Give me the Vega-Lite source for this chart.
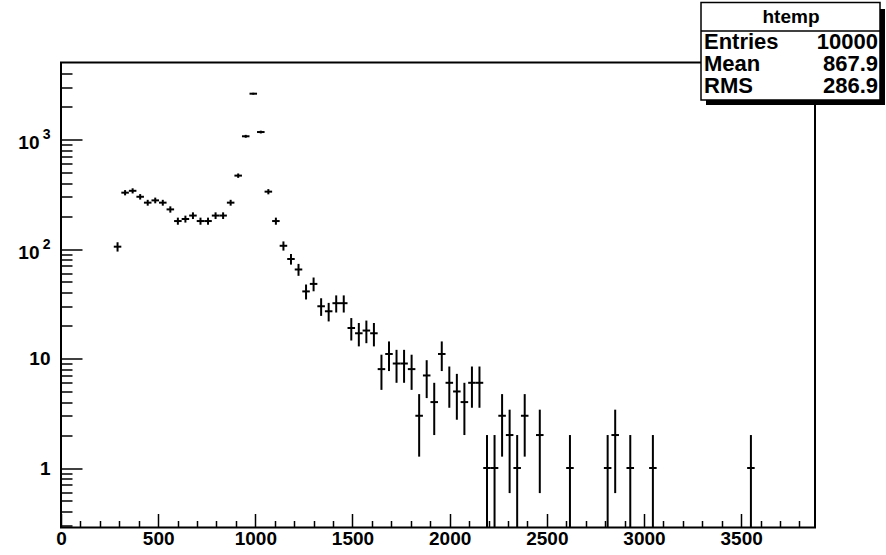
{
  "$schema": "https://vega.github.io/schema/vega-lite/v6.json",
  "width": 754,
  "height": 465,
  "autosize": {"type": "none"},
  "padding": {"left": 61, "top": 62.5, "right": 71, "bottom": 27.5},
  "background": "white",
  "config": {
    "view": {"stroke": "black", "strokeWidth": 2},
    "font": "Liberation Sans",
    "text": {"font": "Liberation Sans", "fontWeight": "bold", "fontSize": 22, "color": "black"}
  },
  "resolve": {"scale": {"x": "independent", "y": "independent"}},
  "layer": [
    {
      "data": {
        "values": [
          {"x": 291, "x0": 271.6, "x1": 310.4, "n": 105, "lo": 94.75, "hi": 115.25},
          {"x": 329.8, "x0": 310.4, "x1": 349.2, "n": 327, "lo": 308.9, "hi": 345.1},
          {"x": 368.6, "x0": 349.2, "x1": 388, "n": 340, "lo": 321.6, "hi": 358.4},
          {"x": 407.4, "x0": 388, "x1": 426.8, "n": 300, "lo": 282.7, "hi": 317.3},
          {"x": 446.2, "x0": 426.8, "x1": 465.6, "n": 265, "lo": 248.7, "hi": 281.3},
          {"x": 485, "x0": 465.6, "x1": 504.4, "n": 278, "lo": 261.3, "hi": 294.7},
          {"x": 523.8, "x0": 504.4, "x1": 543.2, "n": 265, "lo": 248.7, "hi": 281.3},
          {"x": 562.6, "x0": 543.2, "x1": 582, "n": 230, "lo": 214.8, "hi": 245.2},
          {"x": 601.4, "x0": 582, "x1": 620.8, "n": 180, "lo": 166.6, "hi": 193.4},
          {"x": 640.2, "x0": 620.8, "x1": 659.6, "n": 188, "lo": 174.3, "hi": 201.7},
          {"x": 679, "x0": 659.6, "x1": 698.4, "n": 202, "lo": 187.8, "hi": 216.2},
          {"x": 717.8, "x0": 698.4, "x1": 737.2, "n": 180, "lo": 166.6, "hi": 193.4},
          {"x": 756.6, "x0": 737.2, "x1": 776, "n": 180, "lo": 166.6, "hi": 193.4},
          {"x": 795.4, "x0": 776, "x1": 814.8, "n": 202, "lo": 187.8, "hi": 216.2},
          {"x": 834.2, "x0": 814.8, "x1": 853.6, "n": 202, "lo": 187.8, "hi": 216.2},
          {"x": 873, "x0": 853.6, "x1": 892.4, "n": 265, "lo": 248.7, "hi": 281.3},
          {"x": 911.8, "x0": 892.4, "x1": 931.2, "n": 468, "lo": 446.4, "hi": 489.6},
          {"x": 950.6, "x0": 931.2, "x1": 970, "n": 1070, "lo": 1037.3, "hi": 1102.7},
          {"x": 989.4, "x0": 970, "x1": 1008.8, "n": 2620, "lo": 2568.8, "hi": 2671.2},
          {"x": 1028.2, "x0": 1008.8, "x1": 1047.6, "n": 1170, "lo": 1135.8, "hi": 1204.2},
          {"x": 1067, "x0": 1047.6, "x1": 1086.4, "n": 334, "lo": 315.7, "hi": 352.3},
          {"x": 1105.8, "x0": 1086.4, "x1": 1125.2, "n": 180, "lo": 166.6, "hi": 193.4},
          {"x": 1144.6, "x0": 1125.2, "x1": 1164, "n": 107, "lo": 96.7, "hi": 117.3},
          {"x": 1183.4, "x0": 1164, "x1": 1202.8, "n": 81, "lo": 72, "hi": 90},
          {"x": 1222.2, "x0": 1202.8, "x1": 1241.6, "n": 65, "lo": 56.9, "hi": 73.1},
          {"x": 1261, "x0": 1241.6, "x1": 1280.4, "n": 41, "lo": 34.6, "hi": 47.4},
          {"x": 1299.8, "x0": 1280.4, "x1": 1319.2, "n": 48, "lo": 41.1, "hi": 54.9},
          {"x": 1338.6, "x0": 1319.2, "x1": 1358, "n": 30, "lo": 24.5, "hi": 35.5},
          {"x": 1377.4, "x0": 1358, "x1": 1396.8, "n": 27, "lo": 21.8, "hi": 32.2},
          {"x": 1416.2, "x0": 1396.8, "x1": 1435.6, "n": 32, "lo": 26.3, "hi": 37.7},
          {"x": 1455, "x0": 1435.6, "x1": 1474.4, "n": 32, "lo": 26.3, "hi": 37.7},
          {"x": 1493.8, "x0": 1474.4, "x1": 1513.2, "n": 19, "lo": 14.6, "hi": 23.4},
          {"x": 1532.6, "x0": 1513.2, "x1": 1552, "n": 17, "lo": 12.9, "hi": 21.1},
          {"x": 1571.4, "x0": 1552, "x1": 1590.8, "n": 18, "lo": 13.8, "hi": 22.2},
          {"x": 1610.2, "x0": 1590.8, "x1": 1629.6, "n": 17, "lo": 12.9, "hi": 21.1},
          {"x": 1649, "x0": 1629.6, "x1": 1668.4, "n": 8, "lo": 5.17, "hi": 10.83},
          {"x": 1687.8, "x0": 1668.4, "x1": 1707.2, "n": 11, "lo": 7.68, "hi": 14.32},
          {"x": 1726.6, "x0": 1707.2, "x1": 1746, "n": 9, "lo": 6, "hi": 12},
          {"x": 1765.4, "x0": 1746, "x1": 1784.8, "n": 9, "lo": 6, "hi": 12},
          {"x": 1804.2, "x0": 1784.8, "x1": 1823.6, "n": 8, "lo": 5.17, "hi": 10.83},
          {"x": 1843, "x0": 1823.6, "x1": 1862.4, "n": 3, "lo": 1.27, "hi": 4.73},
          {"x": 1881.8, "x0": 1862.4, "x1": 1901.2, "n": 7, "lo": 4.35, "hi": 9.65},
          {"x": 1920.6, "x0": 1901.2, "x1": 1940, "n": 4, "lo": 2, "hi": 6},
          {"x": 1959.4, "x0": 1940, "x1": 1978.8, "n": 11, "lo": 7.68, "hi": 14.32},
          {"x": 1998.2, "x0": 1978.8, "x1": 2017.6, "n": 6, "lo": 3.55, "hi": 8.45},
          {"x": 2037, "x0": 2017.6, "x1": 2056.4, "n": 5, "lo": 2.76, "hi": 7.24},
          {"x": 2075.8, "x0": 2056.4, "x1": 2095.2, "n": 4, "lo": 2, "hi": 6},
          {"x": 2114.6, "x0": 2095.2, "x1": 2134, "n": 6, "lo": 3.55, "hi": 8.45},
          {"x": 2153.4, "x0": 2134, "x1": 2172.8, "n": 6, "lo": 3.55, "hi": 8.45},
          {"x": 2192.2, "x0": 2172.8, "x1": 2211.6, "n": 1, "lo": 0, "hi": 2},
          {"x": 2231, "x0": 2211.6, "x1": 2250.4, "n": 1, "lo": 0, "hi": 2},
          {"x": 2269.8, "x0": 2250.4, "x1": 2289.2, "n": 3, "lo": 1.27, "hi": 4.73},
          {"x": 2308.6, "x0": 2289.2, "x1": 2328, "n": 2, "lo": 0.59, "hi": 3.41},
          {"x": 2347.4, "x0": 2328, "x1": 2366.8, "n": 1, "lo": 0, "hi": 2},
          {"x": 2386.2, "x0": 2366.8, "x1": 2405.6, "n": 3, "lo": 1.27, "hi": 4.73},
          {"x": 2463.8, "x0": 2444.4, "x1": 2483.2, "n": 2, "lo": 0.59, "hi": 3.41},
          {"x": 2619, "x0": 2599.6, "x1": 2638.4, "n": 1, "lo": 0, "hi": 2},
          {"x": 2813, "x0": 2793.6, "x1": 2832.4, "n": 1, "lo": 0, "hi": 2},
          {"x": 2851.8, "x0": 2832.4, "x1": 2871.2, "n": 2, "lo": 0.59, "hi": 3.41},
          {"x": 2929.4, "x0": 2910, "x1": 2948.8, "n": 1, "lo": 0, "hi": 2},
          {"x": 3045.8, "x0": 3026.4, "x1": 3065.2, "n": 1, "lo": 0, "hi": 2},
          {"x": 3550.2, "x0": 3530.8, "x1": 3569.6, "n": 1, "lo": 0, "hi": 2}
        ]
      },
      "layer": [
        {
          "mark": {"type": "rule", "color": "black", "strokeWidth": 2},
          "encoding": {
            "x": {
              "field": "x", "type": "quantitative",
              "scale": {"domain": [0, 3880], "nice": false, "zero": false},
              "axis": {
                "title": null, "grid": false, "domain": false, "orient": "bottom",
                "values": [0,100,200,300,400,500,600,700,800,900,1000,1100,1200,1300,1400,1500,1600,1700,1800,1900,2000,2100,2200,2300,2400,2500,2600,2700,2800,2900,3000,3100,3200,3300,3400,3500,3600,3700,3800],
                "tickCount": 200,
                "tickColor": "black", "tickWidth": 1.5,
                "tickSize": {"condition": {"test": "datum.value % 500 === 0", "value": -14}, "value": -7},
                "labelExpr": "datum.value % 500 === 0 ? '' + datum.value : ''",
                "labelFont": "Liberation Sans", "labelFontWeight": "bold", "labelFontSize": 19, "labelColor": "black",
                "labelPadding": 16, "labelFlush": false, "labelOverlap": false, "labelBound": false
              }
            },
            "y": {
              "field": "lo", "type": "quantitative",
              "scale": {"type": "log", "domain": [0.2862, 5049], "nice": false, "clamp": true},
              "axis": {
                "title": null, "grid": false, "domain": false, "orient": "left",
                "values": [0.3,0.4,0.5,0.6,0.7,0.8,0.9,1,2,3,4,5,6,7,8,9,10,20,30,40,50,60,70,80,90,100,200,300,400,500,600,700,800,900,1000,2000,3000,4000],
                "tickCount": 200,
                "tickColor": "black", "tickWidth": 1.5,
                "tickSize": {"condition": {"test": "datum.value === 1 || datum.value === 10 || datum.value === 100 || datum.value === 1000", "value": -21}, "value": -11},
                "labelExpr": "datum.value === 1 ? '1' : datum.value === 10 ? '10' : (datum.value === 100 || datum.value === 1000) ? '10' : ''",
                "labelFont": "Liberation Sans", "labelFontWeight": "bold", "labelFontSize": 19, "labelColor": "black",
                "labelPadding": {"condition": {"test": "datum.value >= 100", "value": 43}, "value": 32},
                "labelOffset": {"condition": {"test": "datum.value >= 100", "value": 3}, "value": 0},
                "labelFlush": false, "labelOverlap": false, "labelBound": false
              }
            },
            "y2": {"field": "hi"}
          }
        },
        {
          "mark": {"type": "rule", "color": "black", "strokeWidth": 2},
          "encoding": {
            "x": {"field": "x0", "type": "quantitative"},
            "x2": {"field": "x1"},
            "y": {"field": "n", "type": "quantitative"}
          }
        }
      ]
    },
    {
      "data": {"values": [{}]},
      "layer": [
        {
          "mark": {"type": "rect", "color": "black"},
          "encoding": {
            "x": {"datum": 3319.1, "type": "quantitative", "axis": null, "scale": {"domain": [0, 3880], "nice": false, "zero": false}},
            "x2": {"datum": 4240.2},
            "y": {
              "datum": 15553, "type": "quantitative",
              "scale": {"type": "log", "domain": [0.2862, 5049], "nice": false},
              "axis": {
                "title": null, "grid": false, "domain": false, "ticks": false, "tickSize": 0, "orient": "left",
                "values": [100, 1000],
                "labelExpr": "datum.value === 100 ? '2' : '3'",
                "labelFont": "Liberation Sans", "labelFontWeight": "bold", "labelFontSize": 14, "labelColor": "black",
                "labelPadding": 11, "labelOffset": -5, "labelFlush": false, "labelOverlap": false, "labelBound": false
              }
            },
            "y2": {"datum": 2066}
          }
        },
        {
          "mark": {"type": "rect", "fill": "white", "stroke": "black", "strokeWidth": 1.5},
          "encoding": {
            "x": {"datum": 3293.4, "type": "quantitative"},
            "x2": {"datum": 4214.5},
            "y": {"datum": 17800, "type": "quantitative"},
            "y2": {"datum": 2295}
          }
        },
        {
          "mark": {"type": "rule", "color": "black", "strokeWidth": 1.5},
          "encoding": {
            "x": {"datum": 3293.4, "type": "quantitative"},
            "x2": {"datum": 4214.5},
            "y": {"datum": 9792, "type": "quantitative"}
          }
        },
        {
          "mark": {"type": "text", "align": "center", "baseline": "middle", "text": "htemp", "fontSize": 19},
          "encoding": {
            "x": {"datum": 3756.5, "type": "quantitative"},
            "y": {"datum": 13145, "type": "quantitative"}
          }
        },
        {
          "mark": {"type": "text", "align": "left", "baseline": "middle", "text": "Entries"},
          "encoding": {
            "x": {"datum": 3308.8, "type": "quantitative"},
            "y": {"datum": 7772, "type": "quantitative"}
          }
        },
        {
          "mark": {"type": "text", "align": "right", "baseline": "middle", "text": "10000"},
          "encoding": {
            "x": {"datum": 4204.2, "type": "quantitative"},
            "y": {"datum": 7772, "type": "quantitative"}
          }
        },
        {
          "mark": {"type": "text", "align": "left", "baseline": "middle", "text": "Mean"},
          "encoding": {
            "x": {"datum": 3308.8, "type": "quantitative"},
            "y": {"datum": 4892, "type": "quantitative"}
          }
        },
        {
          "mark": {"type": "text", "align": "right", "baseline": "middle", "text": "867.9"},
          "encoding": {
            "x": {"datum": 4204.2, "type": "quantitative"},
            "y": {"datum": 4892, "type": "quantitative"}
          }
        },
        {
          "mark": {"type": "text", "align": "left", "baseline": "middle", "text": "RMS"},
          "encoding": {
            "x": {"datum": 3308.8, "type": "quantitative"},
            "y": {"datum": 3080, "type": "quantitative"}
          }
        },
        {
          "mark": {"type": "text", "align": "right", "baseline": "middle", "text": "286.9"},
          "encoding": {
            "x": {"datum": 4204.2, "type": "quantitative"},
            "y": {"datum": 3080, "type": "quantitative"}
          }
        }
      ]
    }
  ]
}
